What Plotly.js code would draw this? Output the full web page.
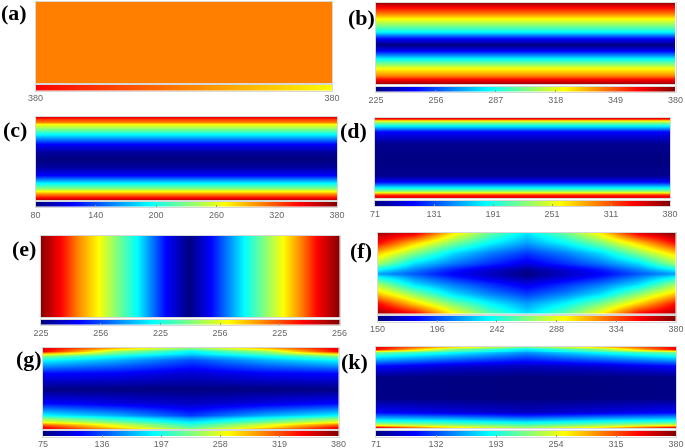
<!DOCTYPE html>
<html><head><meta charset="utf-8">
<script src="https://cdn.plot.ly/plotly-3.0.1.min.js"></script>
<style>html,body{margin:0;padding:0;background:#fff}#p{width:685px;height:448px;filter:blur(0.35px)}</style></head>
<body><div id="p"></div>
<script>
// ---- values ----
const ticksA=['380','380'];
const ticksB=['225','256','287','318','349','380'];
const ticksC=['80','140','200','260','320','380'];
const ticksD=['71','131','191','251','311','380'];
const ticksE=['225','256','225','256','225','256'];
const ticksF=['150','196','242','288','334','380'];
const ticksG=['75','136','197','258','319','380'];
const ticksK=['71','132','193','254','315','380'];

const rowsB=[0,.05,.135,.2,.28,.36,.44,.515,.585,.69,.75,.81,.89,.95,1];
const valsB=[375,362,341,322,302,283,244,225,244,283,302,322,341,362,378];
const rowsC=[0,.03,.06,.09,.14,.2,.32,.42,.52,.6,.7,.8,.86,.895,.93,.97,1];
const valsC=[350,325,305,267,230,192,117,88,80,90,117,192,230,267,305,345,370];
const rowsD=[0,.012,.03,.04,.06,.1,.17,.32,.52,.72,.79,.87,.91,.93,.95,.97,1];
const valsD=[350,340,303,264,225,187,110,76,71,76,110,187,225,264,303,341,350];
const colsE=[0,.03,.065,.12,.19,.255,.32,.42,.495,.565,.68,.745,.81,.87,.925,1];
const valsE=[378,370,361,341,322,302,283,244,225,244,283,302,322,341,361,380];

const colsF=[0,.125,.25,.375,.5,.625,.75,.875,1];
const rowsF=[0,.125,.25,.375,.46,.5,.54,.625,.75,.875,1];
const gridF=[
[372,358,300,260,232,260,300,358,380],
[351,305,265,236,215,236,265,305,351],
[307,267,230,208,192,208,230,267,307],
[272,228,205,188,172,188,205,228,272],
[236,208,185,168,155,168,185,208,236],
[215,198,178,165,150,165,178,198,215],
[236,208,185,168,155,168,185,208,236],
[272,228,205,188,172,188,205,228,272],
[307,267,230,208,192,208,230,267,307],
[351,305,265,236,215,236,265,305,351],
[378,358,300,260,232,260,300,358,372]];

const colsG=[0,.25,.5,.75,1];
const rowsG=[0,.04,.07,.1,.145,.31,.5,.68,.83,.87,.91,.94,.97,1];
const gridG=[
[350,285,225,285,350],
[345,235,190,235,345],
[266,212,175,212,266],
[227,189,160,189,227],
[189,165,135,165,189],
[115,112,100,112,115],
[76,75,75,75,76],
[115,105,95,105,115],
[189,165,130,165,189],
[227,195,160,195,227],
[266,227,185,227,266],
[304,250,200,250,304],
[342,270,215,270,342],
[350,305,235,305,350]];

const colsK=[0,.25,.5,.75,1];
const rowsK=[0,.03,.045,.065,.107,.24,.37,.63,.8,.9,.935,.96,.99,1];
const gridK=[
[345,275,215,275,345],
[341,225,180,225,341],
[264,210,170,210,264],
[225,190,155,190,225],
[187,160,135,160,187],
[110,95,88,95,110],
[73,72,71,72,73],
[73,72,71,72,73],
[110,100,90,100,110],
[187,180,165,180,187],
[225,210,195,210,225],
[264,235,215,235,264],
[341,268,232,268,341],
[345,280,240,280,345]];

const jet=[[0,'#000080'],[.125,'#0000ff'],[.375,'#00ffff'],[.5,'#80ff80'],[.625,'#ffff00'],[.875,'#ff0000'],[1,'#800000']];
const autumn=[[0,'#ff0000'],[1,'#ffff00']];
const flatOrange=[[0,'#ff8000'],[1,'#ff8000']];

// ---- panels: pixel boxes [x0,y0,x1,y1] of image and of colour strip ----
const panels=[
 {n:'(a)',lx:14,ly:13,box:[35.5,2,332,83],bar:[35.5,85,332,90.5],t:ticksA,scale:autumn,x:[0,1],y:[0,1],z:[[380,380],[380,380]],min:370,max:390,cs:flatOrange},
 {n:'(b)',lx:361.5,ly:17,box:[376,2.5,675.5,84],bar:[376,86.5,675.5,92],t:ticksB,x:[0,1],y:rowsB,z:valsB.map(v=>[v,v]),min:225,max:380},
 {n:'(c)',lx:14.5,ly:129,box:[35.5,117,337,200],bar:[35.5,201.5,337,207],t:ticksC,x:[0,1],y:rowsC,z:valsC.map(v=>[v,v]),min:80,max:380},
 {n:'(d)',lx:353.5,ly:130,box:[375,117.5,670,198],bar:[375,200.5,670,206],t:ticksD,x:[0,1],y:rowsD,z:valsD.map(v=>[v,v]),min:71,max:380},
 {n:'(e)',lx:24,ly:248,box:[41,236,339.5,317],bar:[41,319.5,339.5,325],t:ticksE,x:colsE,y:[0,1],z:[valsE,valsE],min:225,max:380},
 {n:'(f)',lx:360.5,ly:251,box:[377.5,232.5,676,314],bar:[377.5,316,676,321.5],t:ticksF,x:colsF,y:rowsF,z:gridF,min:150,max:380},
 {n:'(g)',lx:29,ly:358,box:[43,348,338.5,429],bar:[43,431,338.5,436.5],t:ticksG,x:colsG,y:rowsG,z:gridG,min:75,max:380},
 {n:'(k)',lx:354,ly:361,box:[376,347,676,428],bar:[376,431,676,436.5],t:ticksK,x:colsK,y:rowsK,z:gridK,min:71,max:380}
];

const W=685,H=448,border='#d8d8d8';
const layout={width:W,height:H,margin:{l:0,r:0,t:0,b:0,pad:0},paper_bgcolor:'#fff',plot_bgcolor:'#fff',showlegend:false,annotations:[]};
const data=[];
let k=1;
function axes(box,xcfg,ycfg){
  const id=k++, sfx=id===1?'':id;
  layout['xaxis'+sfx]=Object.assign({domain:[box[0]/W,box[2]/W],anchor:'y'+sfx,showline:true,mirror:true,linecolor:border,linewidth:1,showgrid:false,zeroline:false,fixedrange:true},xcfg);
  layout['yaxis'+sfx]=Object.assign({domain:[1-box[3]/H,1-box[1]/H],anchor:'x'+sfx,showline:true,mirror:true,linecolor:border,linewidth:1,showgrid:false,zeroline:false,fixedrange:true,showticklabels:false,ticks:''},ycfg);
  return {xaxis:'x'+sfx,yaxis:'y'+sfx};
}
panels.forEach(p=>{
  const a=axes(p.box,{range:[p.x[0],p.x[p.x.length-1]],showticklabels:false,ticks:''},{range:[1,0]});
  data.push(Object.assign({type:'heatmap',x:p.x,y:p.y,z:p.z,zmin:p.min,zmax:p.max,colorscale:p.cs||jet,showscale:false,zsmooth:'best',hoverinfo:'skip'},a));
  const idx=p.t.map((_,i)=>i);
  const b=axes(p.bar,{range:[0,idx.length-1],tickmode:'array',tickvals:idx,ticktext:p.t,ticks:'inside',ticklen:2,tickwidth:1,tickcolor:'#999',ticklabelstandoff:-1,tickfont:{family:'Liberation Sans, Arial, sans-serif',size:9,color:'#666'},showticklabels:true},{range:[0,1]});
  data.push(Object.assign({type:'heatmap',x:idx,y:[0,1],z:[idx,idx],zmin:0,zmax:idx.length-1,colorscale:p.scale||jet,showscale:false,zsmooth:'best',hoverinfo:'skip'},b));
  layout.annotations.push({xref:'paper',yref:'paper',x:p.lx/W,y:1-p.ly/H,text:'<b>'+p.n+'</b>',showarrow:false,xanchor:'center',yanchor:'middle',font:{family:'Liberation Serif, Times New Roman, serif',size:22,color:'#000'}});
});
Plotly.newPlot('p',data,layout,{staticPlot:true,displayModeBar:false});
</script></body></html>
